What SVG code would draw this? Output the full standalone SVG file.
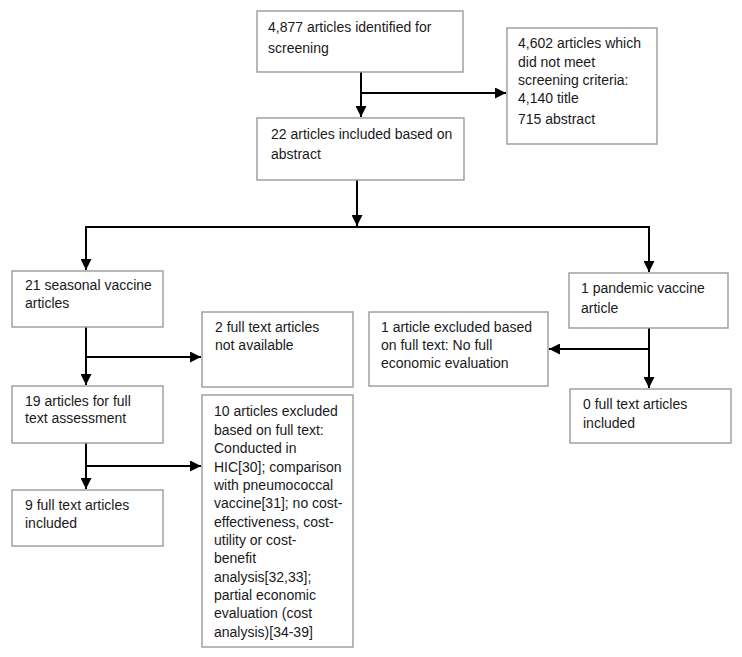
<svg xmlns="http://www.w3.org/2000/svg" width="742" height="657" viewBox="0 0 742 657">
<style>
.box{fill:#fff;stroke:#9a9a9a;stroke-width:1.4}
.t{font-family:"Liberation Sans",Arial,sans-serif;font-size:14px;fill:#1a1a1a}
.c{fill:none;stroke:#000;stroke-width:2}
</style>
<defs>
<marker id="ah" markerUnits="userSpaceOnUse" markerWidth="11" markerHeight="11" refX="10" refY="5" orient="auto" viewBox="0 0 10 10">
<path d="M0,0 L10,5 L0,10 z" fill="#000"/>
</marker>
</defs>
<rect width="742" height="657" fill="#fff"/>
<g id="connectors">
<path class="c" d="M361,72 V117" marker-end="url(#ah)"/>
<path class="c" d="M361,93 H506" marker-end="url(#ah)"/>
<path class="c" d="M357,180 V226" marker-end="url(#ah)"/>
<path class="c" d="M86,227 H649"/>
<path class="c" d="M86,226 V270" marker-end="url(#ah)"/>
<path class="c" d="M649,226 V272" marker-end="url(#ah)"/>
<path class="c" d="M86,327 V385" marker-end="url(#ah)"/>
<path class="c" d="M86,357 H201" marker-end="url(#ah)"/>
<path class="c" d="M86,443 V489" marker-end="url(#ah)"/>
<path class="c" d="M86,466 H201" marker-end="url(#ah)"/>
<path class="c" d="M649,328 V388" marker-end="url(#ah)"/>
<path class="c" d="M649,349 H549" marker-end="url(#ah)"/>
</g>
<g id="n1">
<rect class="box" x="257" y="11" width="206" height="61"/>
<text class="t" x="268" y="32">4,877 articles identified for</text>
<text class="t" x="268" y="53">screening</text>
</g>
<g id="n2">
<rect class="box" x="507" y="28" width="150" height="116"/>
<text class="t" x="518" y="48">4,602 articles which</text>
<text class="t" x="518" y="67">did not meet</text>
<text class="t" x="518" y="85">screening criteria:</text>
<text class="t" x="518" y="103">4,140 title</text>
<text class="t" x="518" y="124">715 abstract</text>
</g>
<g id="n3">
<rect class="box" x="257" y="118" width="207" height="62"/>
<text class="t" x="271" y="139">22 articles included based on</text>
<text class="t" x="271" y="159">abstract</text>
</g>
<g id="n4">
<rect class="box" x="12" y="271" width="151" height="56"/>
<text class="t" x="25" y="290">21 seasonal vaccine</text>
<text class="t" x="25" y="308">articles</text>
</g>
<g id="n5">
<rect class="box" x="202" y="312" width="151" height="75"/>
<text class="t" x="215" y="332">2 full text articles</text>
<text class="t" x="215" y="350">not available</text>
</g>
<g id="n6">
<rect class="box" x="12" y="386" width="151" height="57"/>
<text class="t" x="25" y="406">19 articles for full</text>
<text class="t" x="25" y="423">text assessment</text>
</g>
<g id="n7">
<rect class="box" x="12" y="490" width="151" height="56"/>
<text class="t" x="25" y="510">9 full text articles</text>
<text class="t" x="25" y="528">included</text>
</g>
<g id="n8">
<rect class="box" x="202" y="395" width="151" height="252"/>
<text class="t" x="214" y="416">10 articles excluded</text>
<text class="t" x="214" y="435">based on full text:</text>
<text class="t" x="214" y="453">Conducted in</text>
<text class="t" x="214" y="472">HIC[30]; comparison</text>
<text class="t" x="214" y="490">with pneumococcal</text>
<text class="t" x="214" y="508">vaccine[31]; no cost-</text>
<text class="t" x="214" y="527">effectiveness, cost-</text>
<text class="t" x="214" y="545">utility or cost-</text>
<text class="t" x="214" y="563">benefit</text>
<text class="t" x="214" y="582">analysis[32,33];</text>
<text class="t" x="214" y="600">partial economic</text>
<text class="t" x="214" y="618">evaluation (cost</text>
<text class="t" x="214" y="637">analysis)[34-39]</text>
</g>
<g id="n9">
<rect class="box" x="569" y="273" width="159" height="55"/>
<text class="t" x="581" y="293">1 pandemic vaccine</text>
<text class="t" x="581" y="313">article</text>
</g>
<g id="n10">
<rect class="box" x="369" y="312" width="179" height="74"/>
<text class="t" x="381" y="332">1 article excluded based</text>
<text class="t" x="381" y="350">on full text: No full</text>
<text class="t" x="381" y="368">economic evaluation</text>
</g>
<g id="n11">
<rect class="box" x="570" y="389" width="161" height="54"/>
<text class="t" x="583" y="409">0 full text articles</text>
<text class="t" x="583" y="428">included</text>
</g>
</svg>
